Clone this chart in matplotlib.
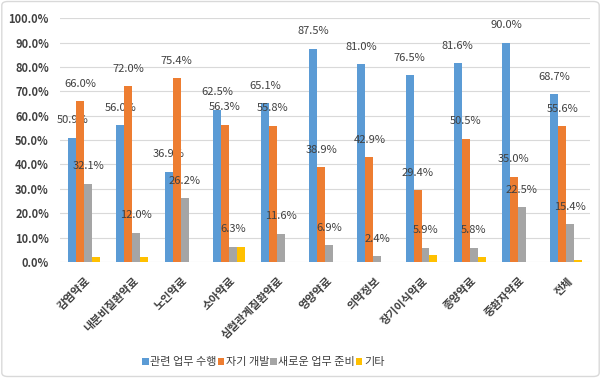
import matplotlib
matplotlib.use("Agg")
import matplotlib.pyplot as plt
import numpy as np
from matplotlib.patches import FancyBboxPatch

plt.rcParams['font.family'] = ['Noto Sans CJK KR', 'DejaVu Sans']

categories = ['감염약료', '내분비질환약료', '노인약료', '소아약료', '심혈관계질환약료',
              '영양약료', '의약정보', '장기이식약료', '종양약료', '중환자약료', '전체']
series_names = ['관련 업무 수행', '자기 개발', '새로운 업무 준비', '기타']
related = [50.9, 56.0, 36.9, 62.5, 65.1, 87.5, 81.0, 76.5, 81.6, 90.0, 68.7]
selfdev = [66.0, 72.0, 75.4, 56.3, 55.8, 38.9, 42.9, 29.4, 50.5, 35.0, 55.6]
newjob = [32.1, 12.0, 26.2, 6.3, 11.6, 6.9, 2.4, 5.9, 5.8, 22.5, 15.4]
other = [1.9, 1.9, 0.0, 6.3, 0.0, 0.0, 0.0, 3.0, 1.9, 0.0, 0.9]
colors = ['#5B9BD5', '#ED7D31', '#A5A5A5', '#FFC000']
labeled = [True, True, True, False]

fig = plt.figure(figsize=(6.01, 3.78), dpi=100)
ax = fig.add_axes([0.100, 0.307, 0.882, 0.645])

data = [related, selfdev, newjob, other]
x = np.arange(len(categories))
w = 0.165
for i, (vals, c) in enumerate(zip(data, colors)):
    pos = x + (i - 1.5) * w
    ax.bar(pos, vals, width=w, color=c, label=series_names[i], zorder=3)
    if labeled[i]:
        for p, v in zip(pos, vals):
            ax.annotate(f'{v:.1f}%', (p, v), xytext=(0, 9), textcoords='offset points',
                        ha='center', va='bottom', fontsize=8, color='#404040')

ax.set_ylim(0, 100)
ax.set_xlim(-0.5, len(categories) - 0.5)
ax.set_yticks(np.arange(0, 101, 10))
ax.set_yticklabels([f'{t:.1f}%' for t in range(0, 101, 10)], fontsize=8, fontweight='bold', color='#404040')
ax.set_xticks(x)
ax.set_xticklabels(categories, rotation=45, ha='right', rotation_mode='anchor',
                   fontsize=8, fontweight='bold', color='#404040')
ax.tick_params(axis='y', length=0, pad=8)
ax.tick_params(axis='x', length=0, pad=9)
ax.grid(axis='y', color='#D9D9D9', linewidth=0.8, zorder=0)
for s in ax.spines.values():
    s.set_visible(False)

leg = fig.legend(loc='center', bbox_to_anchor=(0.438, 0.042), ncol=4, frameon=False,
                 fontsize=8, handlelength=0.6, handleheight=0.6, handletextpad=0.15,
                 columnspacing=0.05)
for t in leg.get_texts():
    t.set_color('#404040')

border = FancyBboxPatch((0.003, 0.004), 0.994, 0.992, boxstyle='round,pad=0,rounding_size=0.01',
                        transform=fig.transFigure, fill=False, edgecolor='#D9D9D9', linewidth=1.0)
fig.patches.append(border)

fig.savefig('out.png', dpi=100)
